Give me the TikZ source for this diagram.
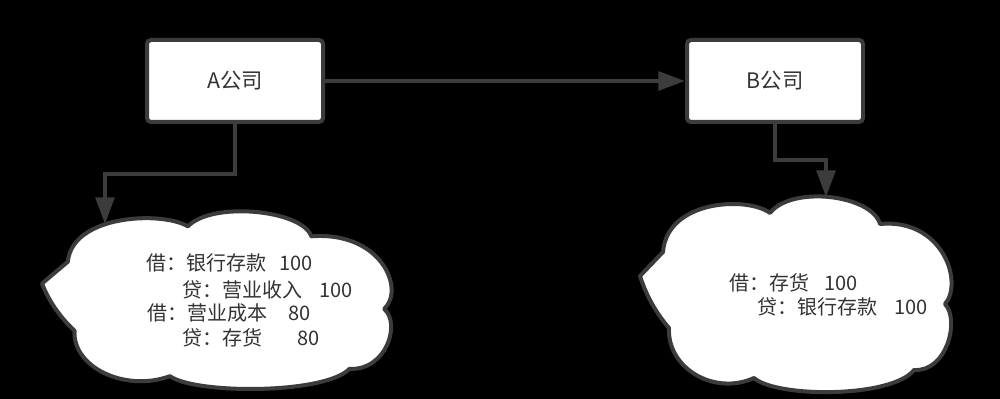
\documentclass[tikz,border=0pt]{standalone}
\usepackage{fontspec}
\newfontfamily\cjk{Noto Sans CJK SC}
\usetikzlibrary{arrows.meta}
\definecolor{linegray}{HTML}{3C3C3C}
\definecolor{textgray}{HTML}{333333}
\newcommand{\cloudoutline}{%
  (23,57) -- (0,81) .. controls (6,100) and (16,118) .. (29,133)
  .. controls (27,173) and (74,201) .. (114,183)
  .. controls (137,203) and (252,203) .. (274,175)
  .. controls (307,177) and (320,125) .. (305,109)
  .. controls (324,87) and (302,23) .. (240,29)
  .. controls (232,0) and (152,-10) .. (130,18)
  .. controls (107,1) and (27,5) .. (23,57) -- cycle}
\tikzset{
  box/.style={draw=linegray, fill=white, line width=3pt, rounded corners=3pt,
    minimum width=132pt, minimum height=61.5pt, inner sep=0pt,
    font=\cjk\fontsize{16}{19}\selectfont, text=textgray},
  cloudline/.style={draw=linegray, fill=white, line width=3pt, line join=round},
  entry/.style={anchor=west, inner sep=0pt, font=\cjk\fontsize{15}{18}\selectfont, text=textgray},
  conn/.style={draw=linegray, line width=3pt, -{Triangle[length=20pt,width=14pt]}},
}
\begin{document}
\begin{tikzpicture}[x=0.75pt,y=-0.75pt]
\fill[black] (0,0) rectangle (1000,399);
\useasboundingbox (0,0) rectangle (1000,399);
% clouds
\begin{scope}[shift={(42,210)}, xscale=1.122, yscale=0.908]
  \path[cloudline] \cloudoutline;
\end{scope}
\begin{scope}[shift={(640,195)}]
  \path[cloudline] \cloudoutline;
\end{scope}
% boxes
\node[box] (A) at (235,81) {A公司};
\node[box] (B) at (775,81) {B公司};
% cloud texts
\node[entry] (l1) at (146,263) {借：银行存款\hspace{0.65em}100};
\node[entry] (l2) at (182,290) {贷：营业收入\hspace{0.85em}100};
\node[entry] (l3) at (147,313) {借：营业成本\hspace{1.05em}80};
\node[entry] (l4) at (182,338) {贷：存货\hspace{1.75em}80};
\node[entry] (r1) at (729,283) {借：存货\hspace{0.75em}100};
\node[entry] (r2) at (757,307) {贷：银行存款\hspace{0.85em}100};
% connector coordinates
\coordinate (lbend) at (105,174);
\coordinate (lcloudtop) at (105,224);
\coordinate (rbend) at (826,160);
\coordinate (rcloudtop) at (826,197);
% connectors
\draw[conn] (A.east) -- (B.west);
\draw[conn] (A.south) |- (lbend) -- (lcloudtop);
\draw[conn] (B.south) |- (rbend) -- (rcloudtop);
\end{tikzpicture}
\end{document}
